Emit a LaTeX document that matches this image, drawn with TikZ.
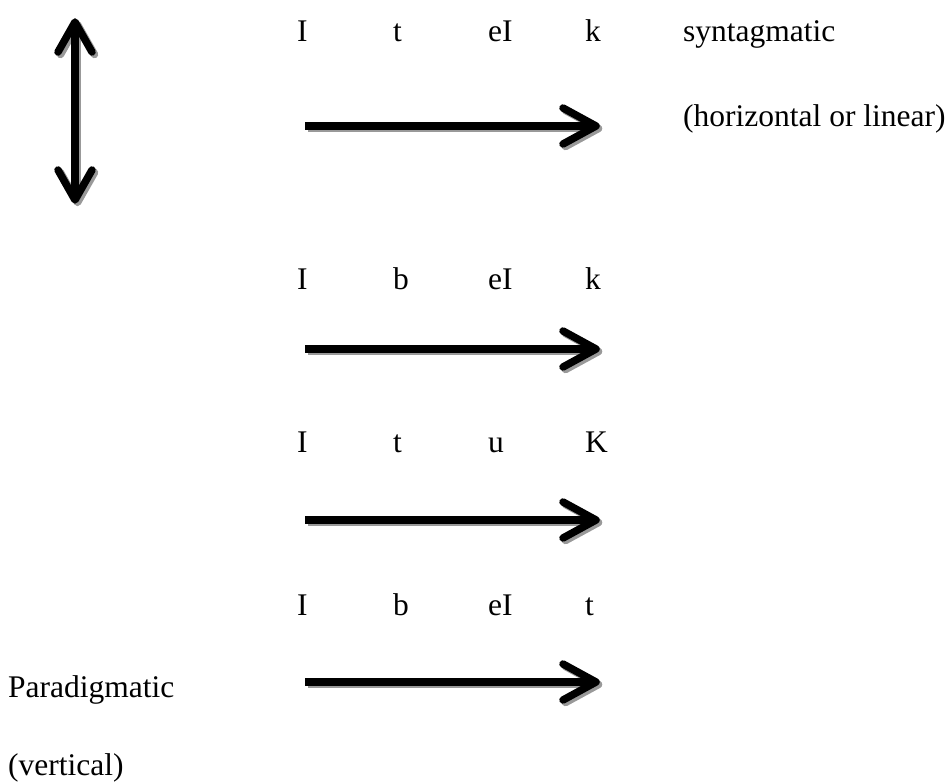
\documentclass[tikz,border=0pt]{standalone}
\usepackage{fontspec}
\setmainfont{Liberation Serif}
\usetikzlibrary{calc}
\tikzset{
  lbl/.style={anchor=base west, inner sep=0pt, font=\fontsize{31.5}{36}\selectfont},
  shaft/.style={line width=7.5, line cap=butt},
  barb/.style={line width=7.5, line cap=round, line join=round},
  shadow/.style={transform canvas={shift={(2.5,2.5)}}, color=black!40},
}
\newcommand\fatharrow[2]{%
  \foreach \sty in {shadow,black}{%
    \draw[shaft,\sty] (#1) -- (#2);
    \draw[barb,\sty] ($(#2)+(-33,-18)$) -- (#2) -- ($(#2)+(-33,18)$);
  }%
}
\begin{document}
\begin{tikzpicture}[x=1pt,y=-1pt]
\path[use as bounding box] (0,0) rectangle (949,783);

% vertical double arrow
\coordinate (vtop) at (75,22);
\coordinate (vbot) at (75,200);
\foreach \sty in {shadow,black}{%
  \draw[shaft,\sty] (vtop) -- (vbot);
  \draw[barb,\sty] ($(vtop)+(-17,30)$) -- (vtop) -- ($(vtop)+(17,30)$);
  \draw[barb,\sty] ($(vbot)+(-17,-30)$) -- (vbot) -- ($(vbot)+(17,-30)$);
}

% row 1
\node[lbl] (r1a) at (297,42) {I};
\node[lbl] (r1b) at (393,42) {t};
\node[lbl] (r1c) at (488,42) {eI};
\node[lbl] (r1d) at (585,42) {k};
\node[lbl] (syn) at (683,42) {syntagmatic};
\node[lbl] (hor) at (683,127) {(horizontal or linear)};
\coordinate (a1s) at (305,126);
\coordinate (a1e) at (596,126);
\fatharrow{a1s}{a1e}

% row 2
\node[lbl] (r2a) at (297,289) {I};
\node[lbl] (r2b) at (393,289) {b};
\node[lbl] (r2c) at (488,289) {eI};
\node[lbl] (r2d) at (585,289) {k};
\coordinate (a2s) at (305,349);
\coordinate (a2e) at (596,349);
\fatharrow{a2s}{a2e}

% row 3
\node[lbl] (r3a) at (297,452) {I};
\node[lbl] (r3b) at (393,452) {t};
\node[lbl] (r3c) at (488,452) {u};
\node[lbl] (r3d) at (585,452) {K};
\coordinate (a3s) at (305,520);
\coordinate (a3e) at (596,520);
\fatharrow{a3s}{a3e}

% row 4
\node[lbl] (r4a) at (297,615) {I};
\node[lbl] (r4b) at (393,615) {b};
\node[lbl] (r4c) at (488,615) {eI};
\node[lbl] (r4d) at (585,615) {t};
\coordinate (a4s) at (305,682);
\coordinate (a4e) at (596,682);
\fatharrow{a4s}{a4e}

\node[lbl] (par) at (8,697) {Paradigmatic};
\node[lbl] (ver) at (8,775) {(vertical)};
\end{tikzpicture}
\end{document}
